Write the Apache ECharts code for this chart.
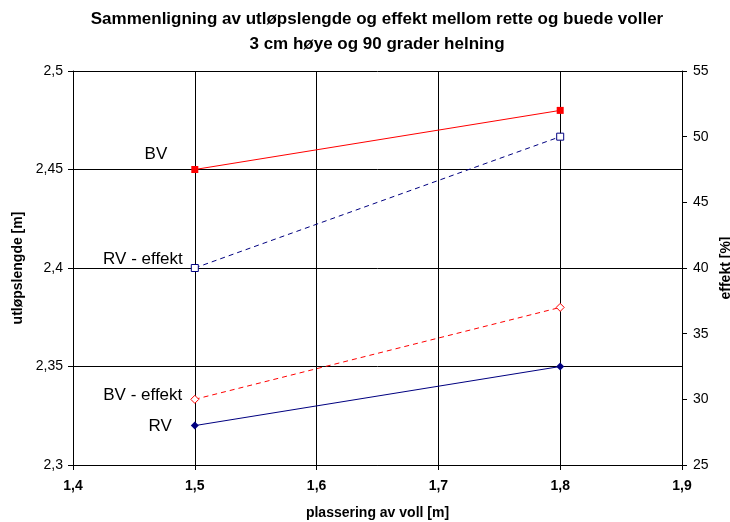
<!DOCTYPE html>
<html>
<head>
<meta charset="utf-8">
<script src="https://cdn.jsdelivr.net/npm/echarts@6/dist/echarts.min.js"></script>
<style>
	html, body { margin: 0; padding: 0; background: #fff; }
	#chart { width: 730px; height: 522px; }
</style>
</head>
<body>
<div id="chart"></div>
<script>
	'use strict'
	/*-----data-----*/
	var positions = [1.5, 1.8];
	var bv = [2.45, 2.48];
	var rv = [2.32, 2.35];
	var rvEffekt = [40, 50];
	var bvEffekt = [30, 37];

	var font = 'Liberation Sans, Arial, sans-serif';
	function comma(v) {
		return String(Number(v.toFixed(2))).replace('.', ',');
	}
	function pairs(values, label) {
		return values.map(function(v, i) {
			var item = { value: [positions[i], v] };
			if (i === 0) item.label = label;
			return item;
		});
	}
	function tag(dist, dy) {
		return {
			show: true,
			position: 'left',
			distance: dist,
			offset: [0, dy],
			formatter: '{a}',
			color: '#000',
			fontSize: 17,
			fontFamily: font
		};
	}

	var series = [{
		name: 'BV',
		type: 'line',
		yAxisIndex: 0,
		data: pairs(bv, tag(24, -15)),
		symbol: 'rect',
		symbolSize: 7,
		lineStyle: { color: '#ff0000', width: 1 },
		itemStyle: { color: '#ff0000' }
	}, {
		name: 'RV',
		type: 'line',
		yAxisIndex: 0,
		data: pairs(rv, tag(19, 1)),
		symbol: 'diamond',
		symbolSize: 8,
		lineStyle: { color: '#000080', width: 1 },
		itemStyle: { color: '#000080' }
	}, {
		name: 'RV - effekt',
		type: 'line',
		yAxisIndex: 1,
		data: pairs(rvEffekt, tag(8, -9)),
		symbol: 'rect',
		symbolSize: 7,
		lineStyle: { color: '#000080', width: 1, type: [5, 4] },
		itemStyle: { color: '#fff', borderColor: '#000080', borderWidth: 1 }
	}, {
		name: 'BV - effekt',
		type: 'line',
		yAxisIndex: 1,
		data: pairs(bvEffekt, tag(8, -4)),
		symbol: 'diamond',
		symbolSize: 8,
		lineStyle: { color: '#ff0000', width: 1, type: [5, 4] },
		itemStyle: { color: '#fff', borderColor: '#ff0000', borderWidth: 1 }
	}];

	var chart = echarts.init(document.getElementById('chart'));
	chart.setOption({
		animation: false,
		backgroundColor: '#fff',
		title: {
			text: 'Sammenligning av utløpslengde og effekt mellom rette og buede voller\n3 cm høye og 90 grader helning',
			left: 372,
			textAlign: 'center',
			top: 2,
			textStyle: {
				fontFamily: font,
				fontWeight: 'bold',
				fontSize: 17,
				lineHeight: 25,
				color: '#000'
			}
		},
		grid: {
			left: 73,
			right: 48,
			top: 71,
			bottom: 57,
			containLabel: false,
			outerBoundsMode: 'none'
		},
		xAxis: {
			type: 'value',
			min: 1.4,
			max: 1.9,
			interval: 0.1,
			name: 'plassering av voll [m]',
			nameLocation: 'middle',
			nameGap: 41,
			nameTextStyle: { fontFamily: font, fontWeight: 'bold', fontSize: 14, color: '#000' },
			axisLine: { lineStyle: { color: '#000', width: 1 } },
			axisTick: { show: true, length: 5, lineStyle: { color: '#000' } },
			axisLabel: {
				formatter: comma,
				fontFamily: font,
				fontWeight: 'bold',
				fontSize: 14,
				color: '#000',
				margin: 14
			},
			splitLine: { show: true, lineStyle: { color: '#000', width: 1 } }
		},
		yAxis: [{
			type: 'value',
			min: 2.3,
			max: 2.5,
			interval: 0.05,
			name: 'utløpslengde [m]',
			nameLocation: 'middle',
			nameGap: 48,
			nameRotate: 90,
			nameTextStyle: { fontFamily: font, fontWeight: 'bold', fontSize: 14, color: '#000' },
			axisLine: { show: true, lineStyle: { color: '#000', width: 1 } },
			axisTick: { show: true, length: 5, lineStyle: { color: '#000' } },
			axisLabel: {
				formatter: comma,
				fontFamily: font,
				fontSize: 14,
				color: '#000',
				margin: 10
			},
			splitLine: { show: true, lineStyle: { color: '#000', width: 1 } }
		}, {
			type: 'value',
			position: 'right',
			min: 25,
			max: 55,
			interval: 5,
			name: 'effekt [%]',
			nameLocation: 'middle',
			nameGap: 36,
			nameRotate: 90,
			nameTextStyle: { fontFamily: font, fontWeight: 'bold', fontSize: 14, color: '#000' },
			axisLine: { show: true, lineStyle: { color: '#000', width: 1 } },
			axisTick: { show: true, length: 5, lineStyle: { color: '#000' } },
			axisLabel: {
				fontFamily: font,
				fontSize: 14,
				color: '#000',
				margin: 11
			},
			splitLine: { show: false }
		}],
		series: series
	});
</script>
</body>
</html>
